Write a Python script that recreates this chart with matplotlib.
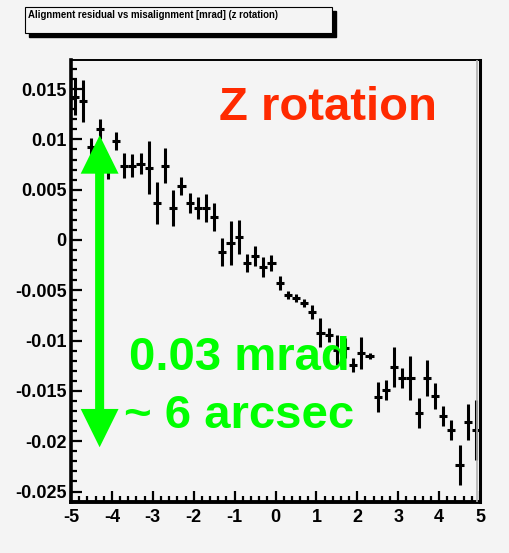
import matplotlib

matplotlib.use("Agg")
import matplotlib.pyplot as plt
from matplotlib.lines import Line2D
from matplotlib.patches import FancyArrowPatch, Rectangle
from matplotlib.ticker import FuncFormatter, MultipleLocator

FIGSIZE = (5.09, 5.53)
DPI = 100
BG = "#f4f4f4"
OUTFILE = "out.png"

plt.rcParams["font.family"] = ["Liberation Sans", "DejaVu Sans"]
plt.rcParams["font.weight"] = "bold"

TITLE = "Alignment residual vs misalignment [mrad] (z rotation)"

# profile bins: misalignment [mrad] -> mean residual and its error
misalignment = [
    -4.9, -4.7, -4.5, -4.3, -4.1, -3.9, -3.7, -3.5, -3.3, -3.1,
    -2.9, -2.7, -2.5, -2.3, -2.1, -1.9, -1.7, -1.5, -1.3, -1.1,
    -0.9, -0.7, -0.5, -0.3, -0.1, 0.1, 0.3, 0.5, 0.7, 0.9,
    1.1, 1.3, 1.5, 1.7, 1.9, 2.1, 2.3, 2.5, 2.7, 2.9,
    3.1, 3.3, 3.5, 3.7, 3.9, 4.1, 4.3, 4.5, 4.7, 4.9,
]
residual = [
    0.0142, 0.0138, 0.0092, 0.0110, 0.0070, 0.0098, 0.0074, 0.0074, 0.0076, 0.0072,
    0.0037, 0.0074, 0.0032, 0.0054, 0.0037, 0.0032, 0.0032, 0.0023, -0.0012, -0.0003,
    0.0003, -0.0023, -0.0016, -0.0027, -0.0023, -0.0043, -0.0055, -0.0058, -0.0063, -0.0072,
    -0.0092, -0.0094, -0.0109, -0.0107, -0.0124, -0.0112, -0.0115, -0.0156, -0.0149, -0.0126,
    -0.0137, -0.0137, -0.0172, -0.0137, -0.0155, -0.0175, -0.0189, -0.0224, -0.0181, -0.0189,
]
residual_err = [
    0.0018, 0.0021, 0.0009, 0.0010, 0.0009, 0.0009, 0.0012, 0.0011, 0.0010, 0.0026,
    0.0021, 0.0017, 0.0018, 0.0009, 0.0010, 0.0011, 0.0014, 0.0014, 0.0014, 0.0022,
    0.0017, 0.0009, 0.0010, 0.0010, 0.0008, 0.0007, 0.0004, 0.0004, 0.0004, 0.0007,
    0.0014, 0.0007, 0.0015, 0.0010, 0.0007, 0.0016, 0.0003, 0.0015, 0.0010, 0.0020,
    0.0010, 0.0022, 0.0015, 0.0018, 0.0013, 0.0010, 0.0010, 0.0020, 0.0018, 0.0030,
]
bin_half_width = 0.1

# double arrow spanning 0.03 mrad
arrow_x = -4.3
arrow_top = 0.0104
arrow_bottom = -0.0206


def fmt(v, _):
    if abs(v) < 1e-9:
        return "0"
    return f"{round(v, 4):g}"


def draw_title(fig):
    """ROOT style title box with drop shadow"""
    w, h = fig.bbox.width, fig.bbox.height
    x0, y0, bw, bh = 25 / w, 1 - 33 / h, 307 / w, 26 / h
    fig.patches.append(Rectangle((x0 + 4 / w, y0 - 4 / h), bw, bh, transform=fig.transFigure,
                                 facecolor="black", edgecolor="black", zorder=1))
    fig.patches.append(Rectangle((x0, y0), bw, bh, transform=fig.transFigure,
                                 facecolor=BG, edgecolor="black", lw=0.8, zorder=2))
    fig.text(x0 + 3 / w, y0 + bh - 8 / h, TITLE, fontsize=6.9, weight="bold",
             ha="left", va="center", zorder=3)


def make_fig():
    fig = plt.figure(figsize=FIGSIZE, dpi=DPI, facecolor=BG)
    ax = fig.add_axes([71 / 509, 51 / 553, 409 / 509, 442 / 553], facecolor=BG)

    ax.errorbar(misalignment, residual, yerr=residual_err, xerr=bin_half_width,
                fmt="none", ecolor="black", elinewidth=2.2, capsize=0, zorder=3)

    ax.set_xlim(-5, 5)
    ax.set_ylim(-0.02604, 0.01789)

    ax.xaxis.set_major_locator(MultipleLocator(1))
    ax.xaxis.set_minor_locator(MultipleLocator(0.2))
    ax.yaxis.set_major_locator(MultipleLocator(0.005))
    ax.yaxis.set_minor_locator(MultipleLocator(0.001))
    ax.xaxis.set_major_formatter(FuncFormatter(fmt))
    ax.yaxis.set_major_formatter(FuncFormatter(fmt))

    ax.tick_params(which="both", direction="in", top=False, right=False, width=1.6, color="black")
    ax.tick_params(which="major", length=8, labelsize=13)
    ax.tick_params(which="minor", length=4)
    ax.tick_params(axis="x", pad=5)
    ax.tick_params(axis="y", pad=3)
    for lab in ax.get_xticklabels() + ax.get_yticklabels():
        lab.set_fontweight("bold")

    ax.spines["left"].set_linewidth(2.6)
    ax.spines["bottom"].set_linewidth(2.8)
    ax.spines["top"].set_linewidth(1.4)
    ax.spines["right"].set_linewidth(2.2)
    ax.add_line(Line2D([0.993, 0.993], [0, 1], transform=ax.transAxes, color="#b0b0b0", lw=1.2, zorder=4))

    arrow = FancyArrowPatch((arrow_x, arrow_bottom), (arrow_x, arrow_top),
                            arrowstyle="<|-|>,head_length=0.85,head_width=0.42",
                            mutation_scale=20, lw=6.5, color="#00ff00",
                            joinstyle="miter", capstyle="butt",
                            shrinkA=0, shrinkB=0, zorder=5)
    ax.add_patch(arrow)

    ax.text(-1.37, 0.0119, "Z rotation", color="#ff2a00", fontsize=34, weight="bold",
            ha="left", va="baseline", zorder=6)
    ax.text(-3.58, -0.0129, "0.03 mrad", color="#00ff00", fontsize=34, weight="bold",
            ha="left", va="baseline", zorder=6)
    ax.text(1.92, -0.0187, "~ 6 arcsec", color="#00ff00", fontsize=34, weight="bold",
            ha="right", va="baseline", zorder=6)

    draw_title(fig)
    return fig


fig = make_fig()
fig.savefig(OUTFILE, dpi=DPI, facecolor=BG)
